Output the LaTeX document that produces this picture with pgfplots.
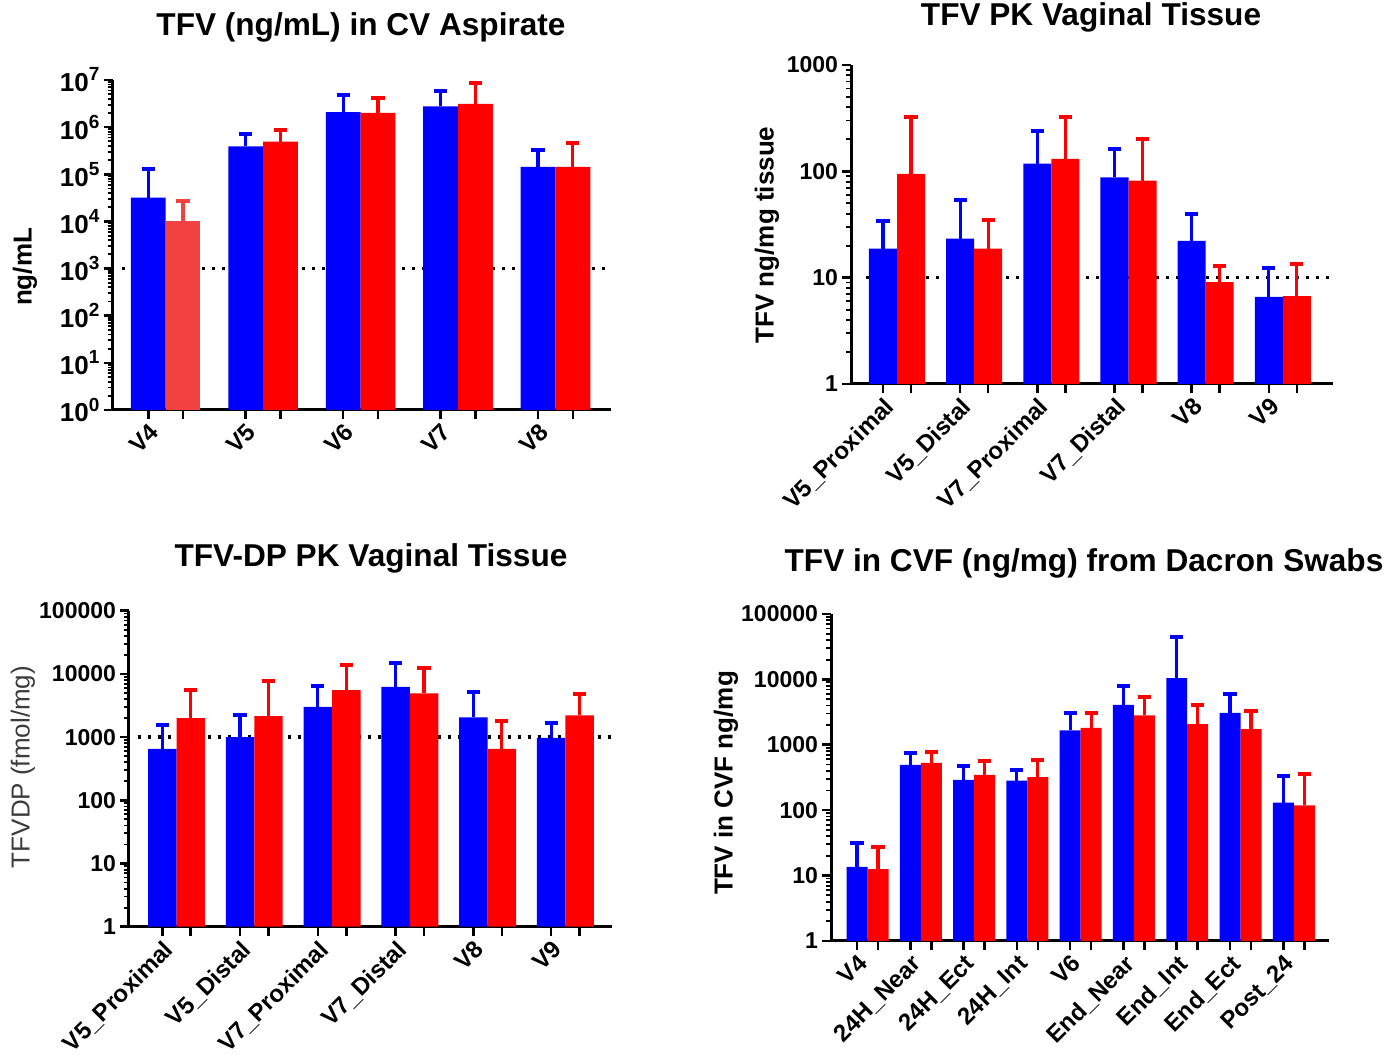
\documentclass[border=0pt]{standalone}
\usepackage{pgfplots}
\pgfplotsset{compat=1.18}
\usepackage{pgfplotstable}
\usepackage{fontspec}
\setmainfont{Liberation Sans}
\definecolor{cblue}{RGB}{0,0,255}
\definecolor{cred}{RGB}{255,0,0}
\definecolor{lred}{RGB}{242,66,66}
\definecolor{labgray}{RGB}{60,60,60}

% panel A: TFV in CV aspirate (mean, upper error)
\pgfplotstableread{
x b be r re
0 32000 98000 10200 17300
1 390000 340000 490000 370000
2 2080000 2720000 2000000 2200000
3 2750000 3050000 3100000 5500000
4 143000 187000 143000 307000
}\tA
% panel B: TFV PK vaginal tissue
\pgfplotstableread{
x b be r re
0 18.8 15.5 94.4 229.6
1 23.3 30.3 18.8 16.2
2 118 120 131 192
3 87.7 75.3 81.6 120.4
4 22.2 17.8 9.1 3.8
5 6.6 5.6 6.7 6.7
}\tB
% panel C: TFV-DP PK vaginal tissue
\pgfplotstableread{
x b be r re
0 653 896 2000 3540
1 1000 1256 2150 5650
2 3020 3390 5540 8360
3 6250 8850 4900 7700
4 2050 3160 653 1157
5 975 725 2200 2530
}\tC
% panel D: TFV in CVF from Dacron swabs
\pgfplotstableread{
x b be r re
0 13.6 18.4 12.6 14.9
1 494 261 530 243
2 291 186 347 209
3 284 126 320 262
4 1656 1394 1820 1270
5 4090 3910 2810 2560
6 10500 33500 2070 2020
7 3090 2940 1738 1532
8 131 204 118 242
}\tD

\newcommand{\xtf}{\bfseries\fontsize{12}{14}\selectfont}
\newcommand{\ytf}{\bfseries\fontsize{11.5}{13}\selectfont}
\newcommand{\ttf}{\bfseries\fontsize{15.8}{19}\selectfont}
\newcommand{\ylf}{\bfseries\fontsize{13}{15}\selectfont}
\newcommand{\tp}[1]{{\fontsize{13}{15}\selectfont 10\raisebox{0.42em}{\fontsize{9.5}{10}\selectfont #1}}}
\def\mt#1{2e#1,3e#1,4e#1,5e#1,6e#1,7e#1,8e#1,9e#1}

\pgfplotsset{
  every axis/.append style={scale only axis, axis lines=left,
    axis line style={line width=1.5pt,-},
    tick align=outside,
    major tick length=4.5pt, minor tick length=2.5pt,
    tick style={black, line width=1.3pt},
    minor tick style={line width=0.9pt},
    x tick label style={rotate=45, anchor=north east, font=\xtf, inner sep=1pt},
    y tick label style={font=\ytf, xshift=1.5pt},
    clip=false},
  cbar/.style={ybar, bar shift=0pt, fill=#1, draw=none,
    error bars/.cd, y dir=plus, y explicit, error mark=|,
    error bar style={line width=1.6pt, #1},
    error mark options={line width=2pt, mark size=3.3pt, #1}},
}

\begin{document}
\begin{tikzpicture}
\path[use as bounding box] (0,0) rectangle (699.5pt,527.5pt);

% ---------- Panel A ----------
\begin{axis}[ymode=log, ymin=1, ymax=1e7, at={(56.25pt,322.5pt)}, anchor=south west,
  width=249.25pt, height=165pt,
  xmin=-0.546, xmax=4.57,
  ytick={1,10,100,1000,10000,100000,1000000,10000000},
  yticklabels={\tp{0},\tp{1},\tp{2},\tp{3},\tp{4},\tp{5},\tp{6},\tp{7}},
  minor ytick/.expanded={\mt0,\mt1,\mt2,\mt3,\mt4,\mt5,\mt6},
  xtick={-0.1785,0.8215,1.8215,2.8215,3.8215},
  xticklabels={V4,V5,V6,V7,V8},
  extra x ticks={0.1785,1.1785,2.1785,3.1785,4.1785}, extra x tick labels={}]
\addplot[black, line width=1.6pt, dash pattern=on 1.6pt off 3.4pt] coordinates {(-0.45,1000) (4.57,1000)};
\addplot[bar width=0.357, cbar=cblue] table[x expr=\thisrow{x}-0.1785,y=b,y error=be]{\tA};
\addplot[bar width=0.357, cbar=lred] table[x expr=\thisrow{x}+0.1785,y=r,y error=re]{
x r re
0 10200 17300
};
\addplot[bar width=0.357, cbar=cred] table[x expr=\thisrow{x}+0.1785,y=r,y error=re]{
x r re
1 490000 370000
2 2000000 2200000
3 3100000 5500000
4 143000 307000
};
\end{axis}

% ---------- Panel B ----------
\begin{axis}[ymode=log, ymin=1, ymax=1000, at={(425.5pt,335.5pt)}, anchor=south west,
  width=241pt, height=159.5pt,
  xmin=-0.596, xmax=5.65,
  ytick={1,10,100,1000}, yticklabels={1,10,100,1000},
  minor ytick/.expanded={\mt0,\mt1,\mt2},
  xtick={-0.1815,0.8185,1.8185,2.8185,3.8185,4.8185},
  xticklabels={V5\_Proximal,V5\_Distal,V7\_Proximal,V7\_Distal,V8,V9},
  extra x ticks={0.1815,1.1815,2.1815,3.1815,4.1815,5.1815}, extra x tick labels={}]
\addplot[black, line width=1.6pt, dash pattern=on 1.6pt off 3.4pt] coordinates {(-0.4,10) (5.65,10)};
\addplot[bar width=0.363, cbar=cblue] table[x expr=\thisrow{x}-0.1815,y=b,y error=be]{\tB};
\addplot[bar width=0.363, cbar=cred] table[x expr=\thisrow{x}+0.1815,y=r,y error=re]{\tB};
\end{axis}

% ---------- Panel C ----------
\begin{axis}[ymode=log, ymin=1, ymax=100000, at={(64.5pt,64.15pt)}, anchor=south west,
  width=241.5pt, height=158pt,
  xmin=-0.611, xmax=5.60,
  ytick={1,10,100,1000,10000,100000}, yticklabels={1,10,100,1000,10000,100000},
  minor ytick/.expanded={\mt0,\mt1,\mt2,\mt3,\mt4},
  xtick={-0.183,0.817,1.817,2.817,3.817,4.817},
  xticklabels={V5\_Proximal,V5\_Distal,V7\_Proximal,V7\_Distal,V8,V9},
  extra x ticks={0.183,1.183,2.183,3.183,4.183,5.183}, extra x tick labels={}]
\addplot[black, line width=1.6pt, dash pattern=on 1.6pt off 3.4pt] coordinates {(-0.5,1000) (5.60,1000)};
\addplot[bar width=0.366, cbar=cblue] table[x expr=\thisrow{x}-0.183,y=b,y error=be]{\tC};
\addplot[bar width=0.366, cbar=cred] table[x expr=\thisrow{x}+0.183,y=r,y error=re]{\tC};
\end{axis}

% ---------- Panel D ----------
\begin{axis}[ymode=log, ymin=1, ymax=100000, at={(415.5pt,57pt)}, anchor=south west,
  width=249pt, height=163.5pt,
  xmin=-0.685, xmax=8.66,
  ytick={1,10,100,1000,10000,100000}, yticklabels={1,10,100,1000,10000,100000},
  minor ytick/.expanded={\mt0,\mt1,\mt2,\mt3,\mt4},
  xtick={-0.197,0.803,1.803,2.803,3.803,4.803,5.803,6.803,7.803},
  xticklabels={V4,24H\_Near,24H\_Ect,24H\_Int,V6,End\_Near,End\_Int,End\_Ect,Post\_24},
  extra x ticks={0.197,1.197,2.197,3.197,4.197,5.197,6.197,7.197,8.197}, extra x tick labels={}]
\addplot[bar width=0.394, cbar=cblue] table[x expr=\thisrow{x}-0.197,y=b,y error=be]{\tD};
\addplot[bar width=0.394, cbar=cred] table[x expr=\thisrow{x}+0.197,y=r,y error=re]{\tD};
\end{axis}

% ---------- titles and axis labels ----------
\node[font=\ttf] at (180.5pt,514pt) {TFV (ng/mL) in CV Aspirate};
\node[font=\ttf] at (545.5pt,519pt) {TFV PK Vaginal Tissue};
\node[font=\ttf] at (185.5pt,248.5pt) {TFV-DP PK Vaginal Tissue};
\node[font=\ttf] at (542pt,246pt) {TFV in CVF (ng/mg) from Dacron Swabs};
\node[font=\ylf, rotate=90] at (12.5pt,394pt) {ng/mL};
\node[font=\ylf, rotate=90] at (383.5pt,410pt) {TFV ng/mg tissue};
\node[font=\fontsize{13}{15}\selectfont, text=labgray, rotate=90] at (11.5pt,144pt) {TFVDP (fmol/mg)};
\node[font=\ylf, rotate=90] at (363pt,136pt) {TFV in CVF ng/mg};
\end{tikzpicture}
\end{document}
